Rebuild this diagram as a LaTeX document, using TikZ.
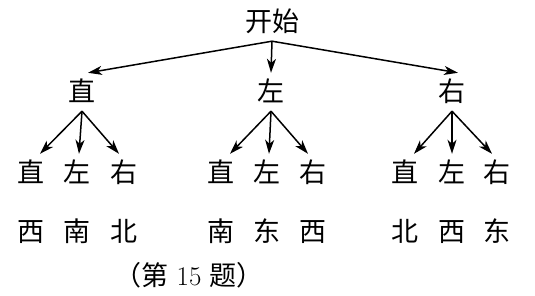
\documentclass[tikz,border=0pt]{standalone}
\usepackage{fontspec}
\usetikzlibrary{arrows.meta}
\newfontfamily\cjk{Noto Sans CJK SC}
\begin{document}
\begin{tikzpicture}[x=1pt,y=-1pt,
  arr/.style={line width=1.5pt,-{Stealth[length=14pt,width=9pt,inset=4pt]}},
  word/.style={font=\cjk\fontsize{27}{30}\selectfont,inner sep=6.5pt,
    text height=22pt,text depth=3pt}]
\useasboundingbox (0,0) rectangle (535,295);
% top and first turn
\node[word] (start) at (272,22) {开始};
\node[word] (zhi) at (82,92) {直};
\node[word] (zuo) at (271,92) {左};
\node[word] (you) at (452,92) {右};
\draw[arr] (start.south) -- ([xshift=6pt]zhi.north);
\draw[arr] (start.south) -- (zuo.north);
\draw[arr] (start.south) -- ([xshift=6pt]you.north);
% second turn
\node[word] (zhiA) at (31,173) {直};
\node[word] (zhiB) at (77,173) {左};
\node[word] (zhiC) at (124,173) {右};
\node[word] (zuoA) at (221,173) {直};
\node[word] (zuoB) at (267,173) {左};
\node[word] (zuoC) at (313,173) {右};
\node[word] (youA) at (405,173) {直};
\node[word] (youB) at (452,173) {左};
\node[word] (youC) at (497,173) {右};
\draw[arr] (zhi.south) -- ([xshift=9pt]zhiA.north);
\draw[arr] (zhi.south) -- ([xshift=2pt]zhiB.north);
\draw[arr] (zhi.south) -- ([xshift=-5pt]zhiC.north);
\draw[arr] (zuo.south) -- ([xshift=9pt]zuoA.north);
\draw[arr] (zuo.south) -- ([xshift=2pt]zuoB.north);
\draw[arr] (zuo.south) -- ([xshift=-5pt]zuoC.north);
\draw[arr] (you.south) -- ([xshift=9pt]youA.north);
\draw[arr] (you.south) -- (youB.north);
\draw[arr] (you.south) -- ([xshift=-5pt]youC.north);
% where it ends up
\node[word] (endA) at (31,232) {西};
\node[word] (endB) at (77,232) {南};
\node[word] (endC) at (124,232) {北};
\node[word] (endD) at (221,232) {南};
\node[word] (endE) at (267,232) {东};
\node[word] (endF) at (313,232) {西};
\node[word] (endG) at (405,232) {北};
\node[word] (endH) at (452,232) {西};
\node[word] (endI) at (497,232) {东};
\node[font=\fontsize{27}{30}\selectfont,inner sep=0pt] (caption) at (189,275)
  {{\cjk （第} 15 {\cjk 题）}};
\end{tikzpicture}
\end{document}
